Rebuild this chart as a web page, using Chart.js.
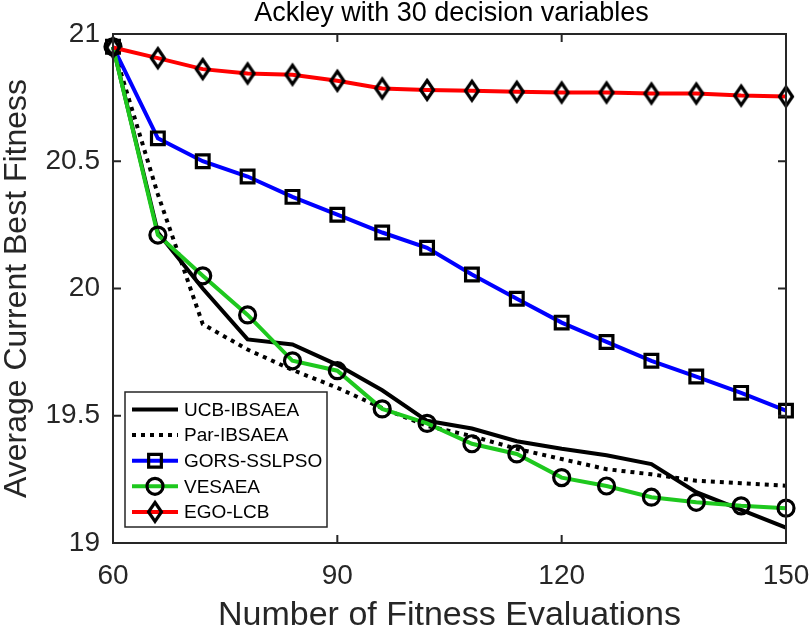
<!DOCTYPE html>
<html lang="en">
  <head>
    <meta charset="UTF-8" />
    <title>Ackley with 30 decision variables</title>
    <script src="https://cdn.jsdelivr.net/npm/chart.js"></script>
    <style>
      html, body { margin: 0; padding: 0; background: #fff; }
      #chart { display: block; }
    </style>
  </head>
  <body>
    <canvas id="chart" width="811" height="634"></canvas>

    <script>
      // Data
      const evaluations = [60, 66, 72, 78, 84, 90, 96, 102, 108, 114, 120, 126, 132, 138, 144, 150];
      const ucbIbsaea = [20.95, 20.22, 20.0, 19.8, 19.78, 19.7, 19.6, 19.48, 19.45, 19.4, 19.37, 19.345, 19.31, 19.2, 19.13, 19.06];
      const parIbsaea = [20.95, 20.37, 19.86, 19.76, 19.68, 19.61, 19.53, 19.46, 19.42, 19.37, 19.33, 19.29, 19.27, 19.245, 19.235, 19.225];
      const gorsSslpso = [20.95, 20.59, 20.5, 20.44, 20.36, 20.29, 20.22, 20.16, 20.055, 19.96, 19.866, 19.79, 19.716, 19.654, 19.59, 19.52];
      const vesaea = [20.95, 20.21, 20.05, 19.896, 19.716, 19.677, 19.527, 19.47, 19.39, 19.35, 19.257, 19.224, 19.18, 19.16, 19.146, 19.137];
      const egoLcb = [20.947, 20.905, 20.862, 20.845, 20.84, 20.816, 20.786, 20.78, 20.777, 20.773, 20.77, 20.77, 20.766, 20.766, 20.758, 20.754];
      const xTicks = [60, 90, 120, 150];
      const yTicks = [19, 19.5, 20, 20.5, 21];

      const FONT = "'Liberation Sans', Arial, Helvetica, sans-serif";
      const AXIS = "#262626";

      // MATLAB style diamond is a bit taller than wide
      function makeDiamond() {
        const c = document.createElement("canvas");
        c.width = 22;
        c.height = 28;
        const g = c.getContext("2d");
        g.strokeStyle = "#000";
        g.lineWidth = 3.2;
        g.beginPath();
        g.moveTo(11, 4.5);
        g.lineTo(17.5, 14);
        g.lineTo(11, 23.5);
        g.lineTo(4.5, 14);
        g.closePath();
        g.stroke();
        return c;
      }
      const diamond = makeDiamond();

      function toPoints(ys) {
        return evaluations.map((x, i) => ({ x: x, y: ys[i] }));
      }

      function series(label, ys, color, extra) {
        return Object.assign(
          {
            label: label,
            data: toPoints(ys),
            borderColor: color,
            borderWidth: 4,
            pointRadius: 0,
            pointBorderColor: "#000",
            pointBackgroundColor: "rgba(0,0,0,0)",
            pointBorderWidth: 3.2,
            tension: 0,
            fill: false,
            clip: false,
          },
          extra
        );
      }

      const datasets = [
        series("UCB-IBSAEA", ucbIbsaea, "#000000", { order: 5 }),
        series("Par-IBSAEA", parIbsaea, "#000000", { order: 4, borderDash: [4, 5] }),
        series("GORS-SSLPSO", gorsSslpso, "#0000ff", { order: 3, pointStyle: "rect", pointRadius: 9 }),
        series("VESAEA", vesaea, "#1ec81e", { order: 2, pointStyle: "circle", pointRadius: 8 }),
        series("EGO-LCB", egoLcb, "#ff0000", { order: 1, pointStyle: diamond, pointRadius: 10 }),
      ];

      // Box, inward ticks, title and the legend drawn inside the axes
      const matlabFrame = {
        id: "matlabFrame",
        afterDraw(chart) {
          const ctx = chart.ctx;
          const a = chart.chartArea;
          const xs = chart.scales.x;
          const ys = chart.scales.y;
          ctx.save();
          ctx.strokeStyle = AXIS;
          ctx.lineWidth = 2;
          ctx.strokeRect(a.left, a.top, a.right - a.left, a.bottom - a.top);
          ctx.beginPath();
          xTicks.forEach((v) => {
            const px = xs.getPixelForValue(v);
            ctx.moveTo(px, a.bottom);
            ctx.lineTo(px, a.bottom - 8);
            ctx.moveTo(px, a.top);
            ctx.lineTo(px, a.top + 8);
          });
          yTicks.forEach((v) => {
            const py = ys.getPixelForValue(v);
            ctx.moveTo(a.left, py);
            ctx.lineTo(a.left + 8, py);
            ctx.moveTo(a.right, py);
            ctx.lineTo(a.right - 8, py);
          });
          ctx.stroke();

          // title
          ctx.fillStyle = "#000";
          ctx.font = "27px " + FONT;
          ctx.textAlign = "center";
          ctx.textBaseline = "middle";
          ctx.fillText("Ackley with 30 decision variables", (a.left + a.right) / 2 + 2, 14);

          // legend
          const box = { x: 125, y: 392, w: 202, h: 135 };
          ctx.fillStyle = "#fff";
          ctx.fillRect(box.x, box.y, box.w, box.h);
          ctx.strokeStyle = AXIS;
          ctx.lineWidth = 1.5;
          ctx.strokeRect(box.x, box.y, box.w, box.h);
          ctx.font = "19px " + FONT;
          ctx.textAlign = "left";
          datasets.forEach((ds, i) => {
            const cy = box.y + 17.5 + i * 25.6;
            ctx.save();
            ctx.strokeStyle = ds.borderColor;
            ctx.lineWidth = 4;
            ctx.setLineDash(ds.borderDash || []);
            ctx.beginPath();
            ctx.moveTo(132, cy);
            ctx.lineTo(178, cy);
            ctx.stroke();
            ctx.restore();
            if (ds.pointRadius > 0) {
              ctx.save();
              ctx.fillStyle = "rgba(0,0,0,0)";
              ctx.strokeStyle = "#000";
              ctx.lineWidth = ds.pointBorderWidth;
              Chart.helpers.drawPoint(
                ctx,
                {
                  pointStyle: ds.pointStyle,
                  radius: ds.pointRadius,
                  borderWidth: ds.pointBorderWidth,
                  rotation: 0,
                },
                155,
                cy
              );
              ctx.restore();
            }
            ctx.fillStyle = "#000";
            ctx.fillText(ds.label, 184, cy + 1);
          });
          ctx.restore();
        },
      };

      const chart = new Chart(document.getElementById("chart"), {
        type: "line",
        data: { datasets: datasets },
        options: {
          responsive: false,
          animation: false,
          layout: { padding: { top: 34, right: 25, left: 0, bottom: 0 } },
          plugins: {
            legend: { display: false },
            title: { display: false },
            tooltip: { enabled: false },
          },
          scales: {
            x: {
              type: "linear",
              min: 60,
              max: 150,
              afterFit(scale) {
                scale.height = 91;
                scale.paddingLeft = 0;
                scale.paddingRight = 0;
              },
              afterBuildTicks(scale) {
                scale.ticks = xTicks.map((v) => ({ value: v }));
              },
              grid: { display: false, drawTicks: false },
              border: { display: false },
              ticks: {
                padding: 16,
                color: "#262626",
                font: { family: FONT, size: 28 },
                maxRotation: 0,
              },
              title: {
                display: true,
                text: "Number of Fitness Evaluations",
                color: "#262626",
                font: { family: FONT, size: 34, lineHeight: 1.1 },
                padding: { top: 0, bottom: 0 },
              },
            },
            y: {
              type: "linear",
              min: 19,
              max: 21,
              afterFit(scale) {
                scale.width = 113;
                scale.paddingTop = 0;
                scale.paddingBottom = 0;
              },
              afterBuildTicks(scale) {
                scale.ticks = yTicks.map((v) => ({ value: v }));
              },
              grid: { display: false, drawTicks: false },
              border: { display: false },
              ticks: {
                padding: 13,
                color: "#262626",
                font: { family: FONT, size: 28 },
                callback: (v) => String(v),
              },
              title: {
                display: true,
                text: "Average Current Best Fitness",
                color: "#262626",
                font: { family: FONT, size: 32, lineHeight: 1.1 },
                padding: { top: 0, bottom: 0 },
              },
            },
          },
        },
        plugins: [matlabFrame],
      });
    </script>
  </body>
</html>
